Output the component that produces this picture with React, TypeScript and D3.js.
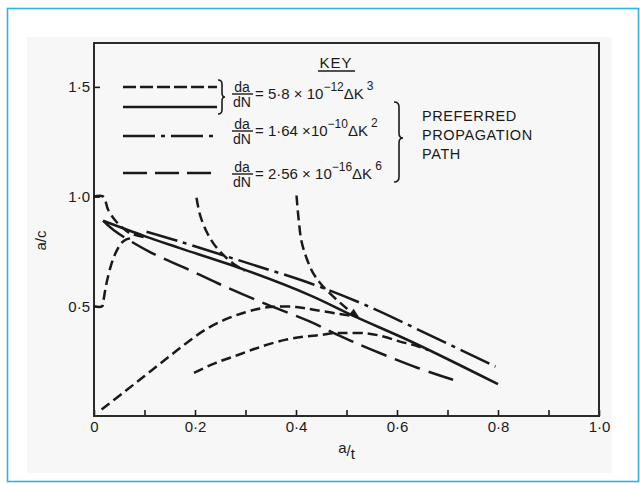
import React, { useEffect, useRef } from 'react';
import * as d3 from 'd3';

// axis ticks
const xTickValues = [0, 0.1, 0.2, 0.3, 0.4, 0.5, 0.6, 0.7, 0.8, 0.9, 1.0];
const xLabelValues = [0, 0.2, 0.4, 0.6, 0.8, 1.0];
const xLabels = ['0', '0·2', '0·4', '0·6', '0·8', '1·0'];
const yTickValues = [0.5, 1.0, 1.5];
const yLabels = ['0·5', '1·0', '1·5'];

// preferred propagation paths  [a/t, a/c]
const solidPath = [[0.018, 0.89], [0.1, 0.82], [0.17, 0.765], [0.3, 0.665], [0.428, 0.55], [0.515, 0.455], [0.632, 0.335], [0.8, 0.145]];
const dashDotPath = [[0.104, 0.84], [0.17, 0.795], [0.3, 0.7], [0.428, 0.605], [0.533, 0.51], [0.65, 0.385], [0.795, 0.225]];
const longDashPath = [[0.018, 0.89], [0.04, 0.845], [0.11, 0.748], [0.18, 0.675], [0.245, 0.605], [0.33, 0.52], [0.428, 0.43], [0.487, 0.365], [0.547, 0.305], [0.64, 0.22], [0.711, 0.165]];

// da/dN = 5.8e-12 dK^3 from other starting shapes
const startA = [[0, 1.0], [0.018, 1.0], [0.028, 0.94], [0.041, 0.894], [0.054, 0.863], [0.071, 0.833], [0.1, 0.815]];
const startB = [[0, 0.5], [0.016, 0.5], [0.019, 0.53], [0.024, 0.597], [0.034, 0.689], [0.044, 0.749], [0.054, 0.788], [0.064, 0.805], [0.078, 0.812]];
const startC = [[0.203, 0.995], [0.21, 0.916], [0.223, 0.84], [0.236, 0.788], [0.256, 0.734], [0.279, 0.689], [0.299, 0.662]];
const startD = [[0.401, 1.005], [0.405, 0.901], [0.411, 0.795], [0.421, 0.719], [0.434, 0.651], [0.451, 0.597], [0.474, 0.544], [0.5, 0.491], [0.522, 0.452]];
const startE = [[0.015, 0.03], [0.06, 0.11], [0.1, 0.182], [0.14, 0.255], [0.18, 0.327], [0.22, 0.393], [0.26, 0.44], [0.3, 0.473], [0.331, 0.491], [0.358, 0.498], [0.4, 0.497], [0.441, 0.482], [0.5, 0.46], [0.52, 0.453]];
const startF = [[0.198, 0.197], [0.239, 0.24], [0.285, 0.278], [0.331, 0.316], [0.378, 0.347], [0.417, 0.362], [0.448, 0.369], [0.474, 0.377], [0.494, 0.378], [0.54, 0.377], [0.573, 0.362], [0.606, 0.339], [0.632, 0.324], [0.662, 0.3]];

const shortDash = '10,5';
const longDash = '27,9';
const dashDot = '32,6,4,6';

export default function App() {
  const chartRef = useRef(null);

  useEffect(() => {
    const svg = d3.select(chartRef.current);
    svg.selectAll('*').remove();
    const font = "'Liberation Sans', Arial, sans-serif";
    const ink = '#1a1a1a';

    // page frame
    svg.append('rect').attr('x', 0).attr('y', 0).attr('width', 640).attr('height', 483).attr('fill', '#fff');
    svg.append('rect').attr('x', 27).attr('y', 37).attr('width', 585).attr('height', 436).attr('fill', '#f7f7f7');
    svg.append('rect').attr('x', 7.5).attr('y', 8.5).attr('width', 631).attr('height', 473)
      .attr('fill', 'none').attr('stroke', '#2bb4e6').attr('stroke-width', 1.6);

    const x = d3.scaleLinear().domain([0, 1]).range([94, 599]);
    const y = d3.scaleLinear().domain([0, 1.7]).range([416, 43]);

    // x axis
    const gx = svg.append('g')
      .attr('transform', `translate(0, ${y(0)})`)
      .call(d3.axisBottom(x).tickValues(xTickValues).tickSize(-6).tickPadding(5)
        .tickFormat(d => { const i = xLabelValues.findIndex(v => Math.abs(v - d) < 1e-6); return i >= 0 ? xLabels[i] : ''; }));
    gx.select('.domain').remove();
    gx.selectAll('line').attr('stroke', ink).attr('stroke-width', 1.6);
    gx.selectAll('text').attr('font-family', font).attr('font-size', 15).attr('fill', ink);

    // y axis
    const gy = svg.append('g')
      .attr('transform', `translate(${x(0)}, 0)`)
      .call(d3.axisLeft(y).tickValues(yTickValues).tickSize(-6).tickPadding(4)
        .tickFormat((d, i) => yLabels[i]));
    gy.select('.domain').remove();
    gy.selectAll('line').attr('stroke', ink).attr('stroke-width', 1.6);
    gy.selectAll('text').attr('font-family', font).attr('font-size', 15).attr('fill', ink);

    // plot frame
    svg.append('rect')
      .attr('x', x(0)).attr('y', y(1.7)).attr('width', x(1) - x(0)).attr('height', y(0) - y(1.7))
      .attr('fill', 'none').attr('stroke', '#2a2a2a').attr('stroke-width', 2);

    // axis titles
    svg.append('text').attr('transform', `translate(46, ${y(0.8)}) rotate(-90)`)
      .attr('text-anchor', 'middle').attr('font-family', font).attr('font-size', 15).attr('fill', ink).text('a/c');
    const xt = svg.append('text').attr('x', x(0.5)).attr('y', 456)
      .attr('text-anchor', 'middle').attr('font-family', font).attr('font-size', 15).attr('fill', ink);
    xt.append('tspan').attr('dy', -3).text('a');
    xt.append('tspan').attr('dy', 3).text('/');
    xt.append('tspan').attr('dy', 3).text('t');

    const line = d3.line()
      .x(d => x(d[0]))
      .y(d => y(d[1]))
      .curve(d3.curveCatmullRom.alpha(0.5));

    const draw = (data, dash) => {
      svg.append('path')
        .datum(data)
        .attr('fill', 'none')
        .attr('stroke', ink)
        .attr('stroke-width', 2.5)
        .attr('stroke-dasharray', dash)
        .attr('d', line);
    };

    draw(solidPath, null);
    draw(dashDotPath, dashDot);
    draw(longDashPath, longDash);
    [startA, startB, startC, startD, startE, startF].forEach(s => draw(s, shortDash));

    // arrow head at end of the 0.4 start curve
    const p1 = startD[startD.length - 2];
    const p2 = startD[startD.length - 1];
    const ang = Math.atan2(y(p2[1]) - y(p1[1]), x(p2[0]) - x(p1[0]));
    const tipX = x(p2[0]) + 3 * Math.cos(ang), tipY = y(p2[1]) + 3 * Math.sin(ang);
    const len = 11, half = 4;
    const bx = tipX - len * Math.cos(ang), by = tipY - len * Math.sin(ang);
    svg.append('path')
      .attr('d', `M${tipX},${tipY}L${bx - half * Math.sin(ang)},${by + half * Math.cos(ang)}L${bx + half * Math.sin(ang)},${by - half * Math.cos(ang)}Z`)
      .attr('fill', ink);

    // key
    svg.append('text').attr('x', 336).attr('y', 68).attr('text-anchor', 'middle')
      .attr('font-family', font).attr('font-size', 15).attr('letter-spacing', 1).attr('fill', ink).text('KEY');
    svg.append('line').attr('x1', 318).attr('x2', 355).attr('y1', 71).attr('y2', 71).attr('stroke', ink).attr('stroke-width', 1.5);

    const keyRows = [
      { y: 87, dash: '13,4' },
      { y: 107, dash: null },
      { y: 136, dash: dashDot },
      { y: 173, dash: '24,8' },
    ];
    keyRows.forEach(r => {
      svg.append('line').attr('x1', 123).attr('x2', 217).attr('y1', r.y).attr('y2', r.y)
        .attr('stroke', ink).attr('stroke-width', 2.5).attr('stroke-dasharray', r.dash);
    });

    // small brace for the first two rows
    svg.append('path').attr('d', 'M218,80 Q222,80 222,84 L222,93 Q222,97 225,97 Q222,97 222,101 L222,110 Q222,114 218,114')
      .attr('fill', 'none').attr('stroke', ink).attr('stroke-width', 1.6);
    // big brace
    svg.append('path').attr('d', 'M394,102 Q399,102 399,107 L399,133 Q399,138 403,138 Q399,138 399,143 L399,177 Q399,182 394,182')
      .attr('fill', 'none').attr('stroke', ink).attr('stroke-width', 1.6);

    const eqs = [
      { bar: 94, coef: '5·8 × 10', exp: '−12', pow: '3' },
      { bar: 131, coef: '1·64 ×10', exp: '−10', pow: '2' },
      { bar: 174, coef: '2·56 × 10', exp: '−16', pow: '6' },
    ];
    eqs.forEach(e => {
      svg.append('text').attr('x', 242).attr('y', e.bar - 2).attr('text-anchor', 'middle')
        .attr('font-family', font).attr('font-size', 14).attr('fill', ink).text('da');
      svg.append('line').attr('x1', 232).attr('x2', 253).attr('y1', e.bar).attr('y2', e.bar)
        .attr('stroke', ink).attr('stroke-width', 1.4);
      svg.append('text').attr('x', 242).attr('y', e.bar + 13).attr('text-anchor', 'middle')
        .attr('font-family', font).attr('font-size', 14).attr('fill', ink).text('dN');
      const t = svg.append('text').attr('x', 255).attr('y', e.bar + 5)
        .attr('font-family', font).attr('font-size', 15).attr('fill', ink);
      t.append('tspan').text('= ' + e.coef);
      t.append('tspan').attr('dy', -8).attr('font-size', 12).text(e.exp);
      t.append('tspan').attr('dy', 8).text('ΔK');
      t.append('tspan').attr('dy', -9).attr('dx', 3).attr('font-size', 12).text(e.pow);
    });

    ['PREFERRED', 'PROPAGATION', 'PATH'].forEach((s, i) => {
      svg.append('text').attr('x', 422).attr('y', 121 + i * 19)
        .attr('font-family', font).attr('font-size', 14.5).attr('letter-spacing', 0.6).attr('fill', ink).text(s);
    });
  }, []);

  return (
    <svg width={640} height={483} style={{ position: 'absolute', left: 0, top: 0 }} ref={chartRef} />
  );
}
